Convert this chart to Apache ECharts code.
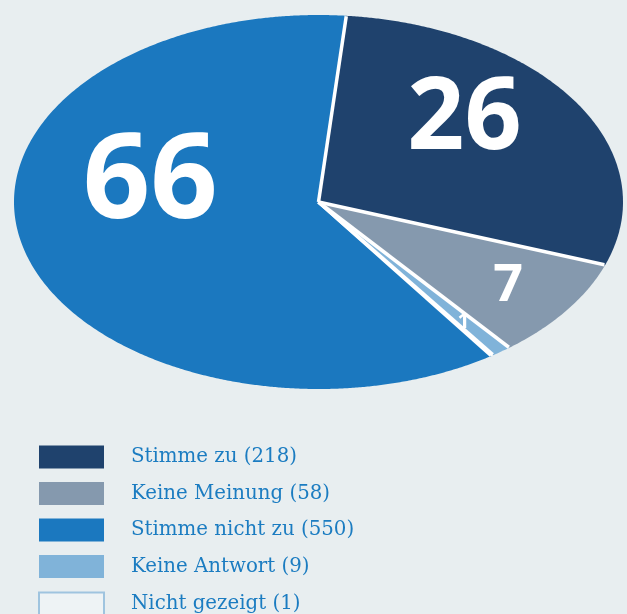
<!DOCTYPE html>
<html><head><meta charset="utf-8">
<script src="https://cdn.jsdelivr.net/npm/echarts@6/dist/echarts.min.js"></script>
<style>html,body{margin:0;padding:0;background:#e8eef0;overflow:hidden}#c{width:627px;height:680px}</style>
</head><body><div id="c"></div>
<script>
// ---- data ----
const categories = ['Stimme zu', 'Keine Meinung', 'Stimme nicht zu', 'Keine Antwort', 'Nicht gezeigt'];
const counts = [218, 58, 550, 9, 1];

// ---- styles / layout (kept separate from data) ----
const colors = ['#1f426d', '#8599ae', '#1b78bf', '#80b3d9', '#eef3f5'];
const legendBorder = '#9fc4df';
const pieOrder = [0, 1, 3, 4, 2];          // clockwise drawing order of the slices
const labelStyle = [
  { size: 100, shift: 3.6, frac: 0.67, dy: 6 },
  { size: 52, shift: -1.6, frac: 0.76, dy: 3 },
  { size: 118, shift: 28.7, frac: 0.57, dy: 8 },
  { size: 21, shift: -0.2, frac: 0.79, dy: 2 },
  null
];
const L = { cx: 318.5, cy: 202, rx: 304.5, ry: 187, startAngle: 8.5, gap: 3.5 };

const total = counts.reduce((a, b) => a + b, 0);
const before = [];
{ let acc = 0; pieOrder.forEach(i => { before[i] = acc; acc += counts[i]; }); }

function ellipsePoint(deg, frac) {
  const t = deg * Math.PI / 180, ux = Math.sin(t), uy = -Math.cos(t);
  const r = 1 / Math.sqrt((ux / L.rx) ** 2 + (uy / L.ry) ** 2);
  return [L.cx + ux * r * frac, L.cy + uy * r * frac];
}
function angleOf(cum) { return L.startAngle + cum / total * 360; }

function sliceRender(params, api) {
  const v = api.value(0), b = api.value(1);
  const a0 = angleOf(b), a1 = angleOf(b + v);
  const pts = [[L.cx, L.cy]];
  const n = Math.max(2, Math.ceil((a1 - a0) / 0.5));
  for (let k = 0; k <= n; k++) pts.push(ellipsePoint(a0 + (a1 - a0) * k / n, 1));
  return { type: 'polygon', shape: { points: pts }, style: { fill: api.visual('color') } };
}

const series = categories.map((name, i) => ({
  type: 'custom', name, coordinateSystem: 'none', z: 2,
  itemStyle: { color: colors[i] },
  data: [[counts[i], before[i]]],
  renderItem: sliceRender
}));
series.push({
  type: 'custom', name: 'separators', coordinateSystem: 'none', z: 3, silent: true,
  data: pieOrder.map(i => [before[i]]),
  renderItem: function (params, api) {
    const p = ellipsePoint(angleOf(api.value(0)), 0.997);
    return { type: 'line', shape: { x1: L.cx, y1: L.cy, x2: p[0], y2: p[1] },
      style: { stroke: '#ffffff', lineWidth: L.gap, lineCap: 'butt' } };
  }
});
series.push({
  type: 'custom', name: 'labels', coordinateSystem: 'none', z: 4, silent: true,
  data: categories.map((_, i) => [counts[i], before[i], i]),
  renderItem: function (params, api) {
    const v = api.value(0), b = api.value(1), ls = labelStyle[api.value(2)];
    if (!ls) return null;
    const p = ellipsePoint((angleOf(b) + angleOf(b + v)) / 2 + ls.shift, ls.frac);
    return {
      type: 'text', x: p[0], y: p[1] + ls.dy,
      style: {
        text: String(Math.round(v / total * 100)), fill: '#ffffff',
        font: 'bold ' + ls.size + 'px "Open Sans"', align: 'center', verticalAlign: 'middle'
      }
    };
  }
});

const chart = echarts.init(document.getElementById('c'), null, { renderer: 'canvas' });
chart.setOption({
  backgroundColor: '#e8eef0',
  animation: false,
  legend: {
    orient: 'vertical', left: 38, top: 445.5, padding: 0,
    itemWidth: 65, itemHeight: 23, itemGap: 13.5, icon: 'rect', selectedMode: false,
    data: categories.map((c, i) => i === 4
      ? { name: c, itemStyle: { color: colors[i], borderColor: legendBorder, borderWidth: 2 } }
      : { name: c }),
    formatter: name => name + ' (' + counts[categories.indexOf(name)] + ')',
    textStyle: { color: '#1b7cc1', fontFamily: 'DejaVu Serif', fontSize: 19.8, padding: [0, 0, 4, 22] }
  },
  series
});
</script></body></html>
